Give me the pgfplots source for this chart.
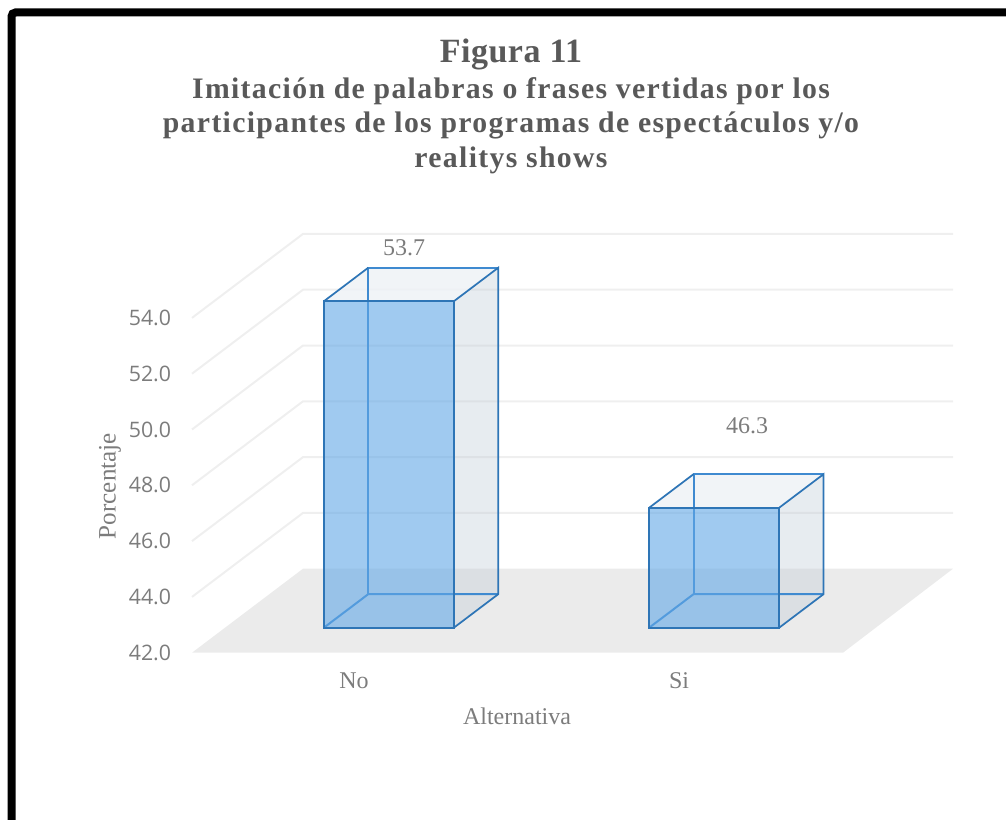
\documentclass[border=0pt]{standalone}
\usepackage{pgfplots}
\pgfplotsset{compat=1.18}
\usepackage{fontspec}
\setmainfont{Liberation Serif}
\newfontfamily\ticksfont{Open Sans}
\newfontfamily\titlefont[LetterSpace=4.5]{Liberation Serif}
\newfontfamily\headfont[LetterSpace=1.5]{Liberation Serif}
\definecolor{titlec}{HTML}{595959}
\definecolor{labelc}{HTML}{7C7C7C}
\definecolor{gridc}{HTML}{EFEFEF}
\definecolor{floorc}{HTML}{EBEBEB}
\definecolor{edgec}{HTML}{2E75B6}
\definecolor{edgeb}{HTML}{3F8AD0}
\definecolor{frontc}{HTML}{61A7E6}
\definecolor{sidec}{HTML}{C1CCD7}
\definecolor{topc}{HTML}{EEF2F6}
\begin{document}
\begin{tikzpicture}[x=0.75pt,y=0.75pt]
\useasboundingbox (0,0) rectangle (1006,820);
\begin{axis}[
  at={(135pt,125.475pt)},anchor=south west,
  scale only axis,width=579.75pt,height=313.875pt,
  xmin=180,xmax=953,ymin=42,ymax=57,
  clip=false,
  axis line style={draw=none},tick style={draw=none},
  major tick length=0pt,
  ytick={42,44,46,48,50,52,54},
  xtick={354,679},xticklabels={No,Si},
  yticklabel={\pgfmathprintnumber[fixed,fixed zerofill,precision=1]{\tick}},
  /pgf/number format/assume math mode=true,
  yticklabel style={font=\ticksfont\fontsize{16}{18}\selectfont,text=labelc,inner sep=0pt,xshift=-6.5pt},
  xticklabel style={font=\fontsize{18}{20}\selectfont,text=labelc,anchor=center,yshift=-21pt,inner sep=0pt},
  xlabel={Alternativa},ylabel={Porcentaje},
  every axis x label/.style={at={(axis cs:517,42)},anchor=center,yshift=-48pt,font=\fontsize{18}{20}\selectfont,text=labelc},
  every axis y label/.style={at={(axis cs:110,47.97)},anchor=center,rotate=90,font=\fontsize{18.8}{20}\selectfont,text=labelc},
]
\addplot[fill=floorc,draw=none] coordinates {(192,42)(303,45.01)(953,45.01)(843,42)} --cycle;
\addplot[gridc,line width=1.5pt] coordinates {(192,44)(303,47.01)(953,47.01)};
\addplot[gridc,line width=1.5pt] coordinates {(192,46)(303,49.01)(953,49.01)};
\addplot[gridc,line width=1.5pt] coordinates {(192,48)(303,51.01)(953,51.01)};
\addplot[gridc,line width=1.5pt] coordinates {(192,50)(303,53.01)(953,53.01)};
\addplot[gridc,line width=1.5pt] coordinates {(192,52)(303,55.01)(953,55.01)};
\addplot[gridc,line width=1.5pt] coordinates {(192,54)(303,57.01)(953,57.01)};
\end{axis}
\begin{axis}[
  at={(135pt,144.3pt)},anchor=south west,
  scale only axis,width=579.75pt,height=313.875pt,
  xmin=180,xmax=953,ymin=42,ymax=57,
  clip=false,hide axis,
]
% bar No
\addplot[fill=sidec,fill opacity=.38,draw=none] coordinates {(454,42)(498.3,43.2)(498.3,54.9)(454,53.7)} --cycle;
\addplot[fill=topc,fill opacity=.85,draw=none] coordinates {(324,53.7)(368.3,54.9)(498.3,54.9)(454,53.7)} --cycle;
\addplot[edgeb,line width=1.5pt] coordinates {(368.3,43.2)(368.3,54.9)(498.3,54.9)};
\addplot[edgeb,line width=1.5pt] coordinates {(324,42)(368.3,43.2)(498.3,43.2)};
\addplot[edgec,line width=1.3pt] coordinates {(454,42)(498.3,43.2)(498.3,54.9)(454,53.7)};
\addplot[edgec,line width=1.3pt] coordinates {(324,53.7)(368.3,54.9)};
\addplot[fill=frontc,fill opacity=.6,draw=none] coordinates {(324,42)(324,53.7)(454,53.7)(454,42)} --cycle;
\addplot[edgec,line width=1.6pt] coordinates {(324,42)(324,53.7)(454,53.7)(454,42)} --cycle;
% bar Si
\addplot[fill=sidec,fill opacity=.38,draw=none] coordinates {(779.3,42)(823.6,43.2)(823.6,47.5)(779.3,46.3)} --cycle;
\addplot[fill=topc,fill opacity=.85,draw=none] coordinates {(649.3,46.3)(693.6,47.5)(823.6,47.5)(779.3,46.3)} --cycle;
\addplot[edgeb,line width=1.5pt] coordinates {(693.6,43.2)(693.6,47.5)(823.6,47.5)};
\addplot[edgeb,line width=1.5pt] coordinates {(649.3,42)(693.6,43.2)(823.6,43.2)};
\addplot[edgec,line width=1.3pt] coordinates {(779.3,42)(823.6,43.2)(823.6,47.5)(779.3,46.3)};
\addplot[edgec,line width=1.3pt] coordinates {(649.3,46.3)(693.6,47.5)};
\addplot[fill=frontc,fill opacity=.6,draw=none] coordinates {(649.3,42)(649.3,46.3)(779.3,46.3)(779.3,42)} --cycle;
\addplot[edgec,line width=1.6pt] coordinates {(649.3,42)(649.3,46.3)(779.3,46.3)(779.3,42)} --cycle;
\node[font=\fontsize{18}{20}\selectfont,text=labelc] at (axis cs:404,55.6) {53.7};
\node[font=\fontsize{18}{20}\selectfont,text=labelc] at (axis cs:747,49.25) {46.3};
\end{axis}
% title and frame
\node[align=center,text=titlec,font=\titlefont\bfseries\fontsize{22.3}{25.9}\selectfont,anchor=north] at (511,786)
 {{\headfont\bfseries\fontsize{25.5}{28}\selectfont Figura 11}\\[1pt]
  Imitación de palabras o frases vertidas por los\\
  participantes de los programas de espectáculos y/o\\
  realitys shows};
\draw[black,line width=6pt,rounded corners=3pt] (11.5,0) -- (11.5,807.5) -- (1006,807.5);
\end{tikzpicture}
\end{document}
